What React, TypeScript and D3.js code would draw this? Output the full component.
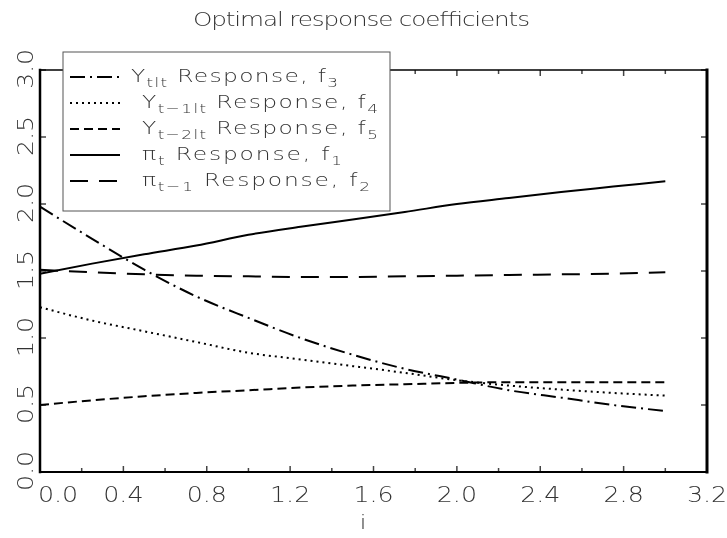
import React, { FC } from 'react';
import * as d3 from 'd3';

// horizon i (x values shared by every series)
const iValues: number[] = [0, 0.25, 0.5, 0.75, 1.0, 1.25, 1.5, 1.75, 2.0, 2.25, 2.5, 2.75, 3.0];

// response coefficients
const piT: number[] = [1.48, 1.555, 1.625, 1.69, 1.77, 1.83, 1.885, 1.94, 2.0, 2.045, 2.09, 2.13, 2.17];
const piT1: number[] = [1.51, 1.49, 1.475, 1.465, 1.46, 1.455, 1.455, 1.46, 1.465, 1.47, 1.475, 1.48, 1.49];
const yTlt: number[] = [1.98, 1.74, 1.51, 1.31, 1.15, 1.0, 0.875, 0.77, 0.69, 0.61, 0.555, 0.5, 0.455];
const yT1lt: number[] = [1.23, 1.13, 1.05, 0.97, 0.89, 0.84, 0.79, 0.74, 0.685, 0.645, 0.615, 0.59, 0.57];
const yT2lt: number[] = [0.5, 0.535, 0.565, 0.59, 0.61, 0.63, 0.645, 0.655, 0.665, 0.67, 0.67, 0.67, 0.67];

const xTickLabels: string[] = ['0.0', '0.4', '0.8', '1.2', '1.6', '2.0', '2.4', '2.8', '3.2'];
const yTickLabels: string[] = ['0.0', '0.5', '1.0', '1.5', '2.0', '2.5', '3.0'];

type Series = {
  values: number[];
  dash: string;
  main: string;
  sub: string;
  fNum: string;
  textLen: number;
  textX: number;
};

// legend order as in the figure
const series: Series[] = [
  { values: yTlt, dash: '15,5,2,5', main: 'Y', sub: 'tlt', fNum: '3', textLen: 207, textX: 131 },
  { values: yT1lt, dash: '2,4', main: 'Y', sub: 't\u22121lt', fNum: '4', textLen: 236, textX: 142 },
  { values: yT2lt, dash: '9,5', main: 'Y', sub: 't\u22122lt', fNum: '5', textLen: 236, textX: 142 },
  { values: piT, dash: '', main: '\u03c0', sub: 't', fNum: '1', textLen: 200, textX: 142 },
  { values: piT1, dash: '18,11', main: '\u03c0', sub: 't\u22121', fNum: '2', textLen: 228, textX: 142 },
];

const FONT = '"DejaVu Sans", sans-serif';
const TXT = '#333';
// Hershey-like wide glyphs: stretch text horizontally
const SX = 1.3;

const App: FC = () => {
  const width = 727;
  const height = 538;

  const x = d3.scaleLinear().domain([0, 3.2]).range([40, 707]);
  const y = d3.scaleLinear().domain([0, 3]).range([472, 70]);

  const line = d3
    .line<number>()
    .x((_d, i) => x(iValues[i]))
    .y((d) => y(d))
    .curve(d3.curveMonotoneX);

  const xMinor = x.ticks(16);
  const yMinor = y.ticks(6);
  // labelled x ticks get a longer mark
  const tickLen = (t: number) => (Math.abs(t / 0.4 - Math.round(t / 0.4)) < 1e-6 ? 6 : 4);

  const legend = { left: 63, top: 52, right: 390, bottom: 211 };

  return (
    <svg
      width={width}
      height={height}
      style={{ position: 'absolute', left: 0, top: 0, background: '#fff' }}
      fontFamily={FONT}
    >
      <defs>
        {/* grey-scale text, no colour fringes */}
        <filter id="mono" x="0" y="0" width="100%" height="100%">
          <feColorMatrix type="saturate" values="0" />
        </filter>
      </defs>
      <g filter="url(#mono)">
        <rect width={width} height={height} fill="#fff" />

        <text
          transform={`translate(193, 26) scale(${SX}, 1)`}
          fontSize={19}
          fontWeight={300}
          fill={TXT}
          textLength={337 / SX}
          lengthAdjust="spacing"
        >
          Optimal response coefficients
        </text>

        {/* tick marks */}
        <g stroke="#444" strokeWidth={1.5}>
          {xMinor.map((t) => (
            <g key={'xt' + t}>
              <line x1={x(t)} x2={x(t)} y1={y(0)} y2={y(0) - tickLen(t)} />
              <line x1={x(t)} x2={x(t)} y1={y(3)} y2={y(3) + tickLen(t)} />
            </g>
          ))}
          {yMinor.map((t) => (
            <g key={'yt' + t}>
              <line x1={x(0)} x2={x(0) + 6} y1={y(t)} y2={y(t)} />
              <line x1={x(3.2)} x2={x(3.2) - 6} y1={y(t)} y2={y(t)} />
            </g>
          ))}
        </g>

        {/* frame */}
        <g stroke="#000" strokeLinecap="square">
          <line x1={x(0)} x2={x(3.2)} y1={y(3)} y2={y(3)} strokeWidth={1.5} />
          <line x1={x(0)} x2={x(3.2)} y1={y(0)} y2={y(0)} strokeWidth={2} />
          <line x1={x(0)} x2={x(0)} y1={y(0)} y2={y(3)} strokeWidth={2.5} />
          <line x1={x(3.2)} x2={x(3.2)} y1={y(0)} y2={y(3)} strokeWidth={3} />
        </g>

        {/* x tick labels */}
        <g fontSize={22} fontWeight={300} fill={TXT} textAnchor="middle">
          {xTickLabels.map((l, idx) => (
            <text
              key={l}
              transform={`translate(${x(+l) + (idx === 0 ? 18 : 0)}, 502) scale(1.15, 1)`}
            >
              {l}
            </text>
          ))}
        </g>

        {/* y tick labels, rotated */}
        <g fontSize={22} fontWeight={300} fill={TXT} textAnchor="middle">
          {yTickLabels.map((l) => (
            <text key={l} transform={`translate(33, ${y(+l) - 1}) rotate(-90) scale(1.15, 1)`}>
              {l}
            </text>
          ))}
        </g>

        <text
          transform="translate(363, 529) scale(1.2, 1)"
          fontSize={20}
          fontWeight={300}
          fill={TXT}
          textAnchor="middle"
        >
          i
        </text>

        {/* series */}
        <g fill="none" stroke="#000" strokeWidth={2}>
          {series.map((s, idx) => (
            <path key={idx} d={line(s.values) || ''} strokeDasharray={s.dash || undefined} />
          ))}
        </g>

        {/* legend */}
        <rect
          x={legend.left}
          y={legend.top}
          width={legend.right - legend.left}
          height={legend.bottom - legend.top}
          fill="#fff"
          stroke="#555"
          strokeWidth={1}
        />
        {series.map((s, idx) => {
          const base = 82 + idx * 26;
          return (
            <g key={'lg' + idx}>
              <line
                x1={70}
                x2={120}
                y1={base - 5}
                y2={base - 5}
                stroke="#000"
                strokeWidth={2}
                strokeDasharray={s.dash || undefined}
              />
              <text
                transform={`translate(${s.textX}, ${base}) scale(${SX}, 1)`}
                fontSize={18}
                fontWeight={300}
                fill={TXT}
                textLength={s.textLen / SX}
                lengthAdjust="spacing"
              >
                {s.main}
                <tspan fontSize={13} dy={5}>
                  {s.sub}
                </tspan>
                <tspan dy={-5}> Response, f</tspan>
                <tspan fontSize={13} dy={5}>
                  {s.fNum}
                </tspan>
              </text>
            </g>
          );
        })}
      </g>
    </svg>
  );
};

export default App;
